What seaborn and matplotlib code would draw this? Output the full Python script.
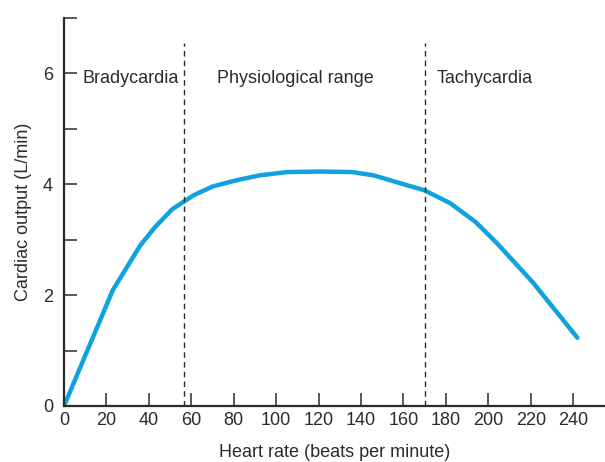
import matplotlib
matplotlib.use("Agg")
import matplotlib.pyplot as plt
import seaborn as sns

# values
heart_rate = [0, 23, 36, 43, 51, 61, 70, 81, 92, 105, 121, 136, 146, 170, 182, 194, 204, 221, 242]
cardiac_output = [0, 2.09, 2.90, 3.23, 3.55, 3.80, 3.96, 4.07, 4.16, 4.22, 4.23, 4.22, 4.16,
                  3.89, 3.66, 3.32, 2.94, 2.23, 1.23]
x_ticks = [0, 20, 40, 60, 80, 100, 120, 140, 160, 180, 200, 220, 240]
y_ticks = [0, 1, 2, 3, 4, 5, 6, 7]
y_tick_labels = ['0', '', '2', '', '4', '', '6', '']
region_bounds = [56.6, 170.1]
region_names = ['Bradycardia', 'Physiological range', 'Tachycardia']
region_label_x = [8.5, 72.1, 175.8]

sns.set_style("ticks")
plt.rcParams['font.family'] = ['Liberation Sans', 'DejaVu Sans']
plt.rcParams['font.size'] = 13

ink = '#2b2b2b'
fig = plt.figure(figsize=(6.05, 4.62), dpi=100)
ax = fig.add_axes([64 / 605, 56 / 462, 1 - 64 / 605, (406 - 18) / 462])

sns.lineplot(x=heart_rate, y=cardiac_output, ax=ax, color='#0ea2df', linewidth=3.2,
             solid_joinstyle='miter')

for b in region_bounds:
    ax.axvline(b, ymin=0, ymax=6.55 / 7, color=ink, linewidth=1.0, linestyle=(0, (4, 3)))

for name, xpos in zip(region_names, region_label_x):
    ax.text(xpos, 5.91, name, ha='left', va='center', fontsize=13, color=ink)

ax.set_xlim(0, 255)
ax.set_ylim(0, 7)
ax.set_xticks(x_ticks)
ax.set_yticks(y_ticks)
ax.set_yticklabels(y_tick_labels)
ax.tick_params(direction='in', length=9.4, width=1.1, color=ink, labelcolor=ink, labelsize=13)
ax.tick_params(axis='y', pad=8)
ax.tick_params(axis='x', pad=4)

for side in ['top', 'right']:
    ax.spines[side].set_visible(False)
for side in ['left', 'bottom']:
    ax.spines[side].set_linewidth(1.6)
    ax.spines[side].set_color(ink)

ax.set_xlabel('Heart rate (beats per minute)', fontsize=13, color=ink, labelpad=11)
ax.set_ylabel('Cardiac output (L/min)', fontsize=13, color=ink, labelpad=8)

fig.savefig('out.png', dpi=100)
plt.close()
